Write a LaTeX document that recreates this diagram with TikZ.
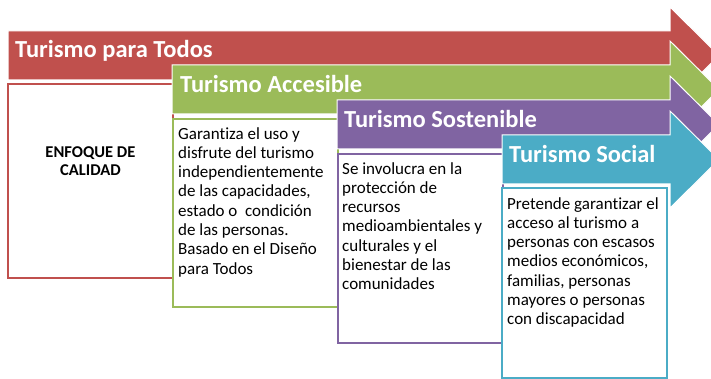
\documentclass[tikz,border=0pt]{standalone}
\usepackage{fontspec}
\setmainfont{Carlito}[Ligatures=NoCommon]
\usetikzlibrary{positioning}
\definecolor{tpRed}{HTML}{C0504D}
\definecolor{tpGreen}{HTML}{9BBB59}
\definecolor{tpPurple}{HTML}{8064A2}
\definecolor{tpTeal}{HTML}{4BACC6}

\begin{document}
\begin{tikzpicture}[x=1pt,y=-1pt,
    band/.style={fill=#1, draw=white, line width=1pt},
    title/.style={anchor=base west, text=white, inner sep=0,
    font=\fontsize{24.5}{28}\selectfont\bfseries},
    box/.style={draw=#1, fill=white, line width=1.8pt, anchor=north west,
    inner sep=0, minimum width=165pt},
    body/.style={align=left, inner sep=0,
    font=\fontsize{17}{19.3}\selectfont}
    ]
\useasboundingbox (0,0) rectangle (711,379);
\clip (0,0) rectangle (711,379);
% Turismo para Todos
\draw[band=tpRed] (8,31) -| ++(662,-24) -- ++(49,48.5) -- ++(-49,48.5) |- (8,80) -- cycle;
\node[box=tpRed, minimum height=194pt] (todosBox) at (7,83) {};
\node[title] (todos) at (15,58) {Turismo para Todos};
\node[below=63pt of todosBox.north, align=center, inner sep=0,
  font=\fontsize{16.5}{18.5}\selectfont\bfseries] (calidad) {ENFOQUE DE\\CALIDAD};
% Turismo Accesible
\draw[band=tpGreen] (172,65) -| ++(498,-24) -- ++(49,48.5) -- ++(-49,48.5) |- (172,114) -- cycle;
\node[box=tpGreen, minimum height=188pt] (accBox) at (172,118) {};
\node[title] (accesible) at (180,93) {Turismo Accesible};
\node[body, below right=9pt and 6pt of accBox.north west] (accTxt)
  {Garantiza el uso y\\disfrute del turismo\\independientemente\\de las capacidades,\\estado o \ condición\\de las personas.\\Basado en el Diseño\\para Todos};
% Turismo Sostenible
\draw[band=tpPurple] (337,100) -| ++(333,-24) -- ++(49,48.5) -- ++(-49,48.5) |- (337,149) -- cycle;
\node[box=tpPurple, minimum height=189pt] (sosBox) at (337,153) {};
\node[title] (sostenible) at (344,128) {Turismo Sostenible};
\node[body, below right=9pt and 5pt of sosBox.north west] (sosTxt)
  {Se involucra en la\\protección de\\recursos\\medioambientales y\\culturales y el\\bienestar de las\\comunidades};
% Turismo Social
\draw[band=tpTeal] (502,135) -| ++(168,-24) -- ++(49,48.5) -- ++(-49,48.5) |- (502,184) -- cycle;
\node[box=tpTeal, minimum height=190pt] (socBox) at (501,187) {};
\node[title] (social) at (509,163) {Turismo Social};
\node[body, below right=10pt and 6pt of socBox.north west] (socTxt)
  {Pretende garantizar el\\acceso al turismo a\\personas con escasos\\medios económicos,\\familias, personas\\mayores o personas\\con discapacidad};
\end{tikzpicture}
\end{document}
